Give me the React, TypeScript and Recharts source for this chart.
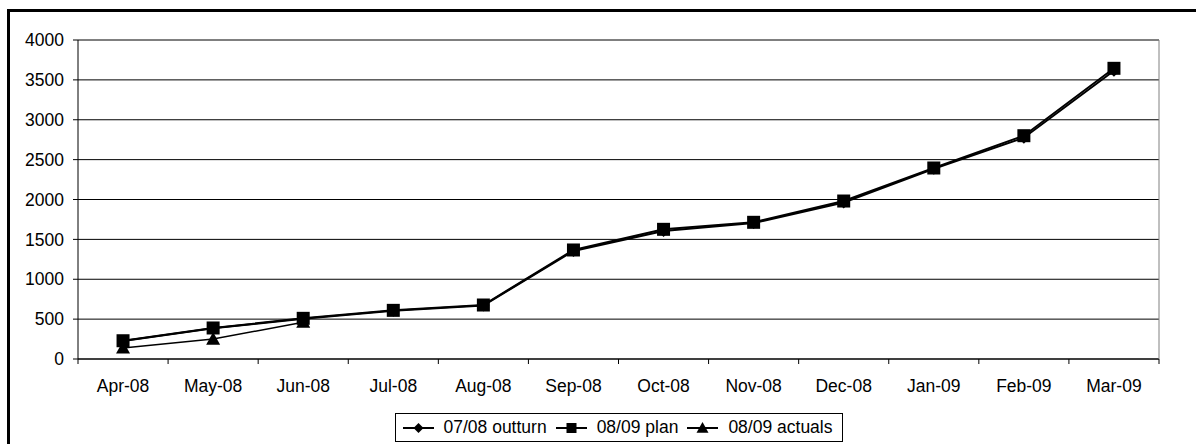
import React from 'react';
import { LineChart, Line, XAxis, YAxis, CartesianGrid, Legend, ReferenceLine } from 'recharts';

const months = ['Apr-08', 'May-08', 'Jun-08', 'Jul-08', 'Aug-08', 'Sep-08', 'Oct-08', 'Nov-08', 'Dec-08', 'Jan-09', 'Feb-09', 'Mar-09'];
const outturn = [225, 385, 505, 605, 672, 1355, 1605, 1705, 1962, 2385, 2775, 3615];
const plan = [229, 389, 510, 610, 677, 1367, 1626, 1714, 1981, 2395, 2800, 3645];
const actuals: (number | null)[] = [138, 250, 462, null, null, null, null, null, null, null, null, null];
const yTicks = [0, 500, 1000, 1500, 2000, 2500, 3000, 3500, 4000];
const xTicks = Array.from({ length: 25 }, (_, i) => i / 2);

const data = months.map((m, i) => ({
  x: i + 0.5,
  month: m,
  outturn: outturn[i],
  plan: plan[i],
  actuals: actuals[i],
}));

const FONT = '"Liberation Sans", Arial, sans-serif';
const FS = 17.5;

const XTick = (props: any) => {
  const { x, y, payload } = props;
  const v = payload.value;
  if (Number.isInteger(v)) {
    return <line x1={x} x2={x} y1={y - 21} y2={y - 16} stroke="#000" strokeWidth={1} />;
  }
  const label = months[Math.floor(v)];
  return (
    <text x={x} y={y} dy="0.71em" textAnchor="middle" fontSize={FS} fontFamily={FONT} fill="#000">
      {label}
    </text>
  );
};

const diamondPath = (cx: number, cy: number, r: number) => `M${cx},${cy - r}L${cx + r},${cy}L${cx},${cy + r}L${cx - r},${cy}Z`;
const trianglePath = (cx: number, cy: number, r: number) => `M${cx},${cy - r}L${cx + r},${cy + r * 0.8}L${cx - r},${cy + r * 0.8}Z`;

const DiamondDot = (p: any) => {
  if (p.cx == null || p.cy == null || p.value == null) return <g key={p.index} />;
  return <path key={p.index} d={diamondPath(p.cx, p.cy, 6)} fill="#000" />;
};
const SquareDot = (p: any) => {
  if (p.cx == null || p.cy == null || p.value == null) return <g key={p.index} />;
  return <rect key={p.index} x={p.cx - 6.5} y={p.cy - 6.5} width={13} height={13} fill="#000" />;
};
const TriangleDot = (p: any) => {
  if (p.cx == null || p.cy == null || p.value == null) return <g key={p.index} />;
  return <path key={p.index} d={trianglePath(p.cx, p.cy, 7)} fill="#000" />;
};

const legendItems = [
  { name: '07/08 outturn', shape: 'diamond' },
  { name: '08/09 plan', shape: 'square' },
  { name: '08/09 actuals', shape: 'triangle' },
];

const LegendContent = () => (
  <div style={{ display: 'flex', justifyContent: 'center' }}>
    <div
      style={{
        display: 'inline-flex',
        alignItems: 'center',
        border: '1px solid #000',
        height: 29,
        boxSizing: 'border-box',
        padding: '0 9px 0 7px',
        fontFamily: FONT,
        fontSize: FS,
        color: '#000',
        background: '#fff',
      }}
    >
      {legendItems.map((it, i) => (
        <div key={it.name} style={{ display: 'flex', alignItems: 'center', marginLeft: i === 0 ? 0 : 9 }}>
          <svg width={31} height={16} style={{ display: 'block' }}>
            <line x1={0} x2={31} y1={8} y2={8} stroke="#000" strokeWidth={2} />
            {it.shape === 'diamond' && <path d={diamondPath(15.5, 8, 5)} fill="#000" />}
            {it.shape === 'square' && <rect x={10.5} y={3} width={10} height={10} fill="#000" />}
            {it.shape === 'triangle' && <path d={trianglePath(15.5, 8, 6)} fill="#000" />}
          </svg>
          <span style={{ marginLeft: 10, lineHeight: '1' }}>{it.name}</span>
        </div>
      ))}
    </div>
  </div>
);

export default function App() {
  return (
    <div style={{ position: 'fixed', left: 0, top: 0, width: 1196, height: 444, overflow: 'hidden', background: '#fff' }}>
      <LineChart width={1196} height={444} data={data} margin={{ top: 40, right: 0, left: 0, bottom: 2 }}>
        <CartesianGrid vertical={false} stroke="#000" strokeWidth={1} />
        <XAxis
          dataKey="x"
          type="number"
          domain={[0, 12]}
          ticks={xTicks}
          interval={0}
          height={54}
          tickSize={0}
          tickMargin={21}
          tickLine={false}
          axisLine={{ stroke: '#000', strokeWidth: 1 }}
          tick={<XTick />}
        />
        <YAxis
          domain={[0, 4000]}
          ticks={yTicks}
          interval={0}
          width={78}
          tickSize={5}
          tickMargin={9}
          tickLine={{ stroke: '#000' }}
          axisLine={{ stroke: '#000', strokeWidth: 1 }}
          tick={{ fill: '#000', fontSize: FS, fontFamily: FONT }}
        />
        <YAxis
          yAxisId="r"
          orientation="right"
          domain={[0, 4000]}
          width={37}
          tick={false}
          tickLine={false}
          axisLine={{ stroke: '#808080', strokeWidth: 1 }}
        />
        <ReferenceLine y={4000} stroke="#808080" strokeWidth={1} />
        <Line
          type="linear"
          dataKey="outturn"
          stroke="#000"
          strokeWidth={2}
          dot={DiamondDot}
          activeDot={false}
          isAnimationActive={false}
        />
        <Line
          type="linear"
          dataKey="plan"
          stroke="#000"
          strokeWidth={2}
          dot={SquareDot}
          activeDot={false}
          isAnimationActive={false}
        />
        <Line
          type="linear"
          dataKey="actuals"
          stroke="#000"
          strokeWidth={1.5}
          dot={TriangleDot}
          activeDot={false}
          connectNulls={false}
          isAnimationActive={false}
        />
        <Legend
          verticalAlign="bottom"
          content={<LegendContent />}
          wrapperStyle={{ left: 78, width: 1081, bottom: 2 }}
        />
      </LineChart>
      <div
        style={{
          position: 'absolute',
          left: 7,
          top: 9,
          width: 1300,
          height: 500,
          border: '3px solid #000',
          boxSizing: 'border-box',
          pointerEvents: 'none',
        }}
      />
    </div>
  );
}
